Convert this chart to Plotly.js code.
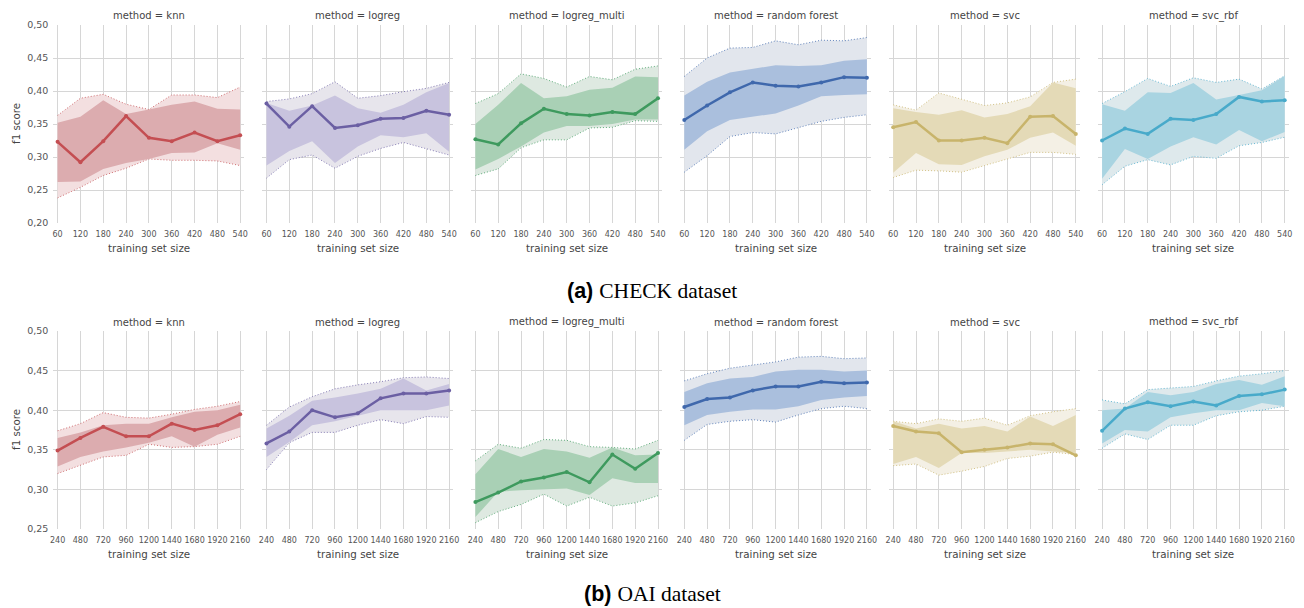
<!DOCTYPE html>
<html>
<head>
<meta charset="utf-8">
<script src="https://cdn.plot.ly/plotly-3.0.1.min.js"></script>
<style>html,body{margin:0;padding:0;background:#fff;}#chart{width:1304px;height:608px;}</style>
</head>
<body>
<div id="chart"></div>
<script>
// ---------------- data ----------------
const methods = ["knn", "logreg", "logreg_multi", "random forest", "svc", "svc_rbf"];
const checkSizes = [60, 120, 180, 240, 300, 360, 420, 480, 540];
const oaiSizes = [240, 480, 720, 960, 1200, 1440, 1680, 1920, 2160];
const yTicksCheck = [0.20, 0.25, 0.30, 0.35, 0.40, 0.45, 0.50];
const yTicksOai = [0.25, 0.30, 0.35, 0.40, 0.45, 0.50];

// CHECK dataset: mean, 68% band (lo/hi), 95% band (lo/hi)
const checkKnnMean   = [0.323, 0.292, 0.324, 0.362, 0.329, 0.324, 0.337, 0.324, 0.333];
const checkKnnIn68Lo = [0.262, 0.263, 0.282, 0.291, 0.297, 0.306, 0.307, 0.321, 0.311];
const checkKnnIn68Hi = [0.352, 0.361, 0.386, 0.365, 0.372, 0.379, 0.384, 0.373, 0.372];
const checkKnnIn95Lo = [0.238, 0.254, 0.272, 0.283, 0.297, 0.295, 0.295, 0.294, 0.287];
const checkKnnIn95Hi = [0.363, 0.389, 0.395, 0.380, 0.372, 0.394, 0.394, 0.390, 0.406];

const checkLogregMean   = [0.381, 0.346, 0.377, 0.344, 0.348, 0.358, 0.359, 0.370, 0.364];
const checkLogregIn68Lo = [0.287, 0.309, 0.324, 0.291, 0.316, 0.333, 0.330, 0.336, 0.308];
const checkLogregIn68Hi = [0.382, 0.370, 0.378, 0.393, 0.374, 0.367, 0.379, 0.398, 0.412];
const checkLogregIn95Lo = [0.268, 0.296, 0.303, 0.283, 0.301, 0.313, 0.322, 0.313, 0.303];
const checkLogregIn95Hi = [0.384, 0.388, 0.396, 0.414, 0.389, 0.393, 0.399, 0.404, 0.413];

const checkMultiMean   = [0.327, 0.319, 0.351, 0.373, 0.365, 0.363, 0.368, 0.365, 0.389];
const checkMultiIn68Lo = [0.281, 0.297, 0.316, 0.337, 0.347, 0.347, 0.350, 0.357, 0.357];
const checkMultiIn68Hi = [0.350, 0.379, 0.412, 0.389, 0.392, 0.402, 0.405, 0.422, 0.421];
const checkMultiIn95Lo = [0.272, 0.282, 0.314, 0.326, 0.326, 0.344, 0.345, 0.355, 0.354];
const checkMultiIn95Hi = [0.381, 0.396, 0.426, 0.419, 0.406, 0.422, 0.417, 0.433, 0.438];

const checkForestMean   = [0.356, 0.378, 0.398, 0.413, 0.408, 0.407, 0.413, 0.421, 0.420];
const checkForestIn68Lo = [0.311, 0.339, 0.356, 0.361, 0.366, 0.378, 0.392, 0.394, 0.395];
const checkForestIn68Hi = [0.393, 0.414, 0.428, 0.434, 0.439, 0.438, 0.439, 0.446, 0.448];
const checkForestIn95Lo = [0.277, 0.302, 0.331, 0.337, 0.335, 0.344, 0.354, 0.360, 0.364];
const checkForestIn95Hi = [0.422, 0.450, 0.465, 0.466, 0.476, 0.470, 0.477, 0.476, 0.481];

const checkSvcMean   = [0.345, 0.353, 0.325, 0.325, 0.329, 0.321, 0.361, 0.362, 0.335];
const checkSvcIn68Lo = [0.276, 0.306, 0.289, 0.288, 0.301, 0.311, 0.329, 0.337, 0.317];
const checkSvcIn68Hi = [0.374, 0.368, 0.364, 0.371, 0.360, 0.365, 0.377, 0.413, 0.404];
const checkSvcIn95Lo = [0.269, 0.280, 0.279, 0.277, 0.287, 0.297, 0.307, 0.307, 0.304];
const checkSvcIn95Hi = [0.379, 0.371, 0.397, 0.388, 0.378, 0.382, 0.391, 0.413, 0.418];

const checkRbfMean   = [0.325, 0.343, 0.335, 0.358, 0.356, 0.365, 0.391, 0.384, 0.386];
const checkRbfIn68Lo = [0.267, 0.312, 0.297, 0.316, 0.330, 0.319, 0.341, 0.324, 0.338];
const checkRbfIn68Hi = [0.380, 0.370, 0.398, 0.397, 0.412, 0.387, 0.394, 0.401, 0.423];
const checkRbfIn95Lo = [0.258, 0.286, 0.296, 0.288, 0.301, 0.298, 0.317, 0.322, 0.330];
const checkRbfIn95Hi = [0.381, 0.399, 0.419, 0.407, 0.420, 0.413, 0.418, 0.403, 0.423];

// OAI dataset
const oaiKnnMean   = [0.349, 0.365, 0.379, 0.367, 0.367, 0.383, 0.375, 0.381, 0.395];
const oaiKnnIn68Lo = [0.329, 0.341, 0.348, 0.353, 0.359, 0.367, 0.354, 0.369, 0.378];
const oaiKnnIn68Hi = [0.365, 0.372, 0.381, 0.383, 0.383, 0.391, 0.398, 0.400, 0.407];
const oaiKnnIn95Lo = [0.320, 0.330, 0.341, 0.343, 0.357, 0.353, 0.354, 0.357, 0.367];
const oaiKnnIn95Hi = [0.374, 0.383, 0.397, 0.391, 0.390, 0.395, 0.401, 0.405, 0.411];

const oaiLogregMean   = [0.358, 0.373, 0.400, 0.391, 0.396, 0.415, 0.421, 0.421, 0.425];
const oaiLogregIn68Lo = [0.341, 0.360, 0.381, 0.386, 0.393, 0.400, 0.400, 0.400, 0.406];
const oaiLogregIn68Hi = [0.377, 0.393, 0.412, 0.416, 0.421, 0.427, 0.440, 0.425, 0.433];
const oaiLogregIn95Lo = [0.325, 0.359, 0.372, 0.372, 0.381, 0.388, 0.383, 0.392, 0.391];
const oaiLogregIn95Hi = [0.381, 0.404, 0.417, 0.427, 0.432, 0.436, 0.441, 0.442, 0.440];

const oaiMultiMean   = [0.284, 0.296, 0.310, 0.315, 0.322, 0.309, 0.344, 0.326, 0.346];
const oaiMultiIn68Lo = [0.265, 0.297, 0.299, 0.300, 0.301, 0.293, 0.314, 0.308, 0.308];
const oaiMultiIn68Hi = [0.319, 0.351, 0.341, 0.351, 0.348, 0.340, 0.353, 0.343, 0.344];
const oaiMultiIn95Lo = [0.258, 0.272, 0.281, 0.294, 0.279, 0.290, 0.279, 0.283, 0.292];
const oaiMultiIn95Hi = [0.336, 0.357, 0.352, 0.363, 0.362, 0.354, 0.353, 0.351, 0.362];

const oaiForestMean   = [0.404, 0.414, 0.416, 0.425, 0.430, 0.430, 0.436, 0.434, 0.435];
const oaiForestIn68Lo = [0.381, 0.394, 0.398, 0.401, 0.401, 0.405, 0.413, 0.416, 0.418];
const oaiForestIn68Hi = [0.423, 0.434, 0.440, 0.442, 0.449, 0.451, 0.451, 0.449, 0.450];
const oaiForestIn95Lo = [0.362, 0.382, 0.386, 0.388, 0.385, 0.394, 0.402, 0.405, 0.402];
const oaiForestIn95Hi = [0.437, 0.446, 0.453, 0.457, 0.461, 0.467, 0.468, 0.465, 0.466];

const oaiSvcMean   = [0.380, 0.373, 0.371, 0.347, 0.350, 0.353, 0.358, 0.357, 0.343];
const oaiSvcIn68Lo = [0.332, 0.341, 0.327, 0.346, 0.346, 0.348, 0.350, 0.348, 0.346];
const oaiSvcIn68Hi = [0.386, 0.377, 0.383, 0.377, 0.380, 0.373, 0.392, 0.380, 0.394];
const oaiSvcIn95Lo = [0.330, 0.332, 0.318, 0.323, 0.329, 0.339, 0.342, 0.347, 0.344];
const oaiSvcIn95Hi = [0.386, 0.383, 0.389, 0.386, 0.390, 0.381, 0.393, 0.398, 0.402];

const oaiRbfMean   = [0.374, 0.402, 0.410, 0.405, 0.411, 0.406, 0.418, 0.420, 0.426];
const oaiRbfIn68Lo = [0.358, 0.375, 0.373, 0.391, 0.396, 0.400, 0.400, 0.409, 0.405];
const oaiRbfIn68Hi = [0.400, 0.402, 0.423, 0.419, 0.423, 0.433, 0.438, 0.432, 0.443];
const oaiRbfIn95Lo = [0.352, 0.370, 0.363, 0.381, 0.381, 0.393, 0.398, 0.400, 0.405];
const oaiRbfIn95Hi = [0.413, 0.408, 0.426, 0.428, 0.430, 0.437, 0.443, 0.446, 0.450];

// ---------------- styles ----------------
const lineColors  = ["#C44E52", "#6B5FA3", "#3E9A5E", "#3F68AC", "#C8B46B", "#48AACA"];
const innerColors = ["#DCACAF", "#C8C3DE", "#A9D0B5", "#AABFDD", "#E4DAB7", "#A9D4E1"];
const outerColors = ["#F3DFE0", "#E7E5EC", "#DEE9E1", "#E2E6ED", "#F4F0E5", "#DEE9EC"];

const rows = [
  {sizes: checkSizes, range: [49, 551], yrange: [0.2, 0.5], yticks: yTicksCheck,
   series: [
     [checkKnnMean, checkKnnIn68Lo, checkKnnIn68Hi, checkKnnIn95Lo, checkKnnIn95Hi],
     [checkLogregMean, checkLogregIn68Lo, checkLogregIn68Hi, checkLogregIn95Lo, checkLogregIn95Hi],
     [checkMultiMean, checkMultiIn68Lo, checkMultiIn68Hi, checkMultiIn95Lo, checkMultiIn95Hi],
     [checkForestMean, checkForestIn68Lo, checkForestIn68Hi, checkForestIn95Lo, checkForestIn95Hi],
     [checkSvcMean, checkSvcIn68Lo, checkSvcIn68Hi, checkSvcIn95Lo, checkSvcIn95Hi],
     [checkRbfMean, checkRbfIn68Lo, checkRbfIn68Hi, checkRbfIn95Lo, checkRbfIn95Hi]],
   top: 25, bottom: 223, titleY: 16, xlabY: 248, caption: '<b>(a)</b> <span style="font-family:\'Liberation Serif\'">CHECK dataset</span>', capY: 291},
  {sizes: oaiSizes, range: [196, 2204], yrange: [0.25, 0.5], yticks: yTicksOai,
   series: [
     [oaiKnnMean, oaiKnnIn68Lo, oaiKnnIn68Hi, oaiKnnIn95Lo, oaiKnnIn95Hi],
     [oaiLogregMean, oaiLogregIn68Lo, oaiLogregIn68Hi, oaiLogregIn95Lo, oaiLogregIn95Hi],
     [oaiMultiMean, oaiMultiIn68Lo, oaiMultiIn68Hi, oaiMultiIn95Lo, oaiMultiIn95Hi],
     [oaiForestMean, oaiForestIn68Lo, oaiForestIn68Hi, oaiForestIn95Lo, oaiForestIn95Hi],
     [oaiSvcMean, oaiSvcIn68Lo, oaiSvcIn68Hi, oaiSvcIn95Lo, oaiSvcIn95Hi],
     [oaiRbfMean, oaiRbfIn68Lo, oaiRbfIn68Hi, oaiRbfIn95Lo, oaiRbfIn95Hi]],
   top: 331, bottom: 529, titleY: 322, xlabY: 554, caption: '<b>(b)</b> <span style="font-family:\'Liberation Serif\'">OAI dataset</span>', capY: 594}
];

const W = 1304, H = 608;
const panelLeft0 = 53.4, panelStep = 208.9, panelW = 191;
const fx = px => px / W, fy = py => 1 - py / H;
const gridColor = "#d6d6d6";
const textColor = "#555555";
const FONT = "DejaVu Sans, sans-serif";

const traces = [];
const layout = {
  width: W, height: H,
  margin: {l: 0, r: 0, t: 0, b: 0},
  paper_bgcolor: "#ffffff", plot_bgcolor: "#ffffff",
  separators: ", ",
  showlegend: false,
  font: {family: FONT, color: textColor},
  annotations: []
};

let k = 0;
rows.forEach((row, r) => {
  row.series.forEach((s, m) => {
    k += 1;
    const xa = "x" + k, ya = "y" + k;
    const [mean, lo68, hi68, lo95, hi95] = s;
    const left = panelLeft0 + panelStep * m;
    // 95% band
    traces.push({x: row.sizes, y: lo95, xaxis: xa, yaxis: ya, type: "scatter", mode: "lines",
      line: {color: lineColors[m], width: 0.8, dash: "1px,2px"}, hoverinfo: "skip"});
    traces.push({x: row.sizes, y: hi95, xaxis: xa, yaxis: ya, type: "scatter", mode: "lines",
      fill: "tonexty", fillcolor: outerColors[m],
      line: {color: lineColors[m], width: 0.8, dash: "1px,2px"}, hoverinfo: "skip"});
    // 68% band
    traces.push({x: row.sizes, y: lo68, xaxis: xa, yaxis: ya, type: "scatter", mode: "lines",
      line: {width: 0, color: innerColors[m]}, hoverinfo: "skip"});
    traces.push({x: row.sizes, y: hi68, xaxis: xa, yaxis: ya, type: "scatter", mode: "lines",
      fill: "tonexty", fillcolor: innerColors[m],
      line: {width: 0, color: innerColors[m]}, hoverinfo: "skip"});
    // mean
    traces.push({x: row.sizes, y: mean, xaxis: xa, yaxis: ya, type: "scatter", mode: "lines+markers",
      line: {color: lineColors[m], width: 2.5}, marker: {color: lineColors[m], size: 4}});

    layout["xaxis" + k] = {
      domain: [fx(left), fx(left + panelW)], anchor: ya,
      range: row.range, tickvals: row.sizes, ticktext: row.sizes.map(String),
      showgrid: true, gridcolor: gridColor, gridwidth: 1,
      zeroline: false, showline: false, ticks: "", ticklabelstandoff: 5,
      tickfont: {family: FONT, size: 8, color: textColor}, fixedrange: true
    };
    layout["yaxis" + k] = {
      domain: [fy(row.bottom), fy(row.top)], anchor: xa,
      range: row.yrange, tickvals: row.yticks, tickformat: ".2f",
      showgrid: true, gridcolor: gridColor, gridwidth: 1,
      zeroline: false, showline: false, ticks: "", ticklabelstandoff: 4,
      showticklabels: m === 0,
      tickfont: {family: FONT, size: 9.5, color: textColor}, fixedrange: true
    };
    // panel title
    layout.annotations.push({text: "method = " + methods[m], xref: "paper", yref: "paper",
      x: fx(left + panelW / 2), y: fy(row.titleY), xanchor: "center", yanchor: "middle",
      showarrow: false, font: {family: FONT, size: 10, color: "#444444"}});
    // x label
    layout.annotations.push({text: "training set size", xref: "paper", yref: "paper",
      x: fx(left + panelW / 2), y: fy(row.xlabY), xanchor: "center", yanchor: "middle",
      showarrow: false, font: {family: FONT, size: 10.3, color: "#444444"}});
  });
  // y label
  layout.annotations.push({text: "f1 score", xref: "paper", yref: "paper", textangle: -90,
    x: fx(16), y: fy((row.top + row.bottom) / 2), xanchor: "center", yanchor: "middle",
    showarrow: false, font: {family: FONT, size: 10.3, color: "#444444"}});
  // caption
  layout.annotations.push({text: row.caption, xref: "paper", yref: "paper",
    x: fx(652), y: fy(row.capY), xanchor: "center", yanchor: "middle",
    showarrow: false, font: {family: "Liberation Sans, Arial, sans-serif", size: 21.5, color: "#000000"}});
});

Plotly.newPlot("chart", traces, layout, {displayModeBar: false, staticPlot: true});
</script>
</body>
</html>
